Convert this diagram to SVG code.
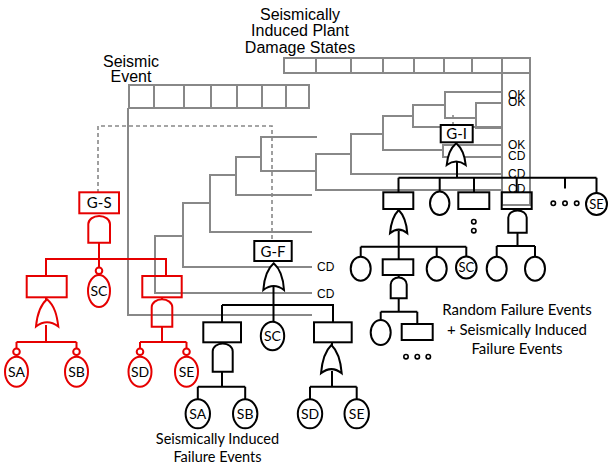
<svg xmlns="http://www.w3.org/2000/svg" width="610" height="468" viewBox="0 0 610 468">
<style>
.et{fill:none;stroke:#888;stroke-width:2}
.dash{fill:none;stroke:#888;stroke-width:1.6;stroke-dasharray:4 3}
.k{fill:none;stroke:#000;stroke-width:2}
.r{fill:none;stroke:#e60000;stroke-width:2}
.kn{fill:#fff;stroke:#000;stroke-width:2}
.ko{fill:none;stroke:#000;stroke-width:2}
.rn{fill:none;stroke:#e60000;stroke-width:2}
.gn{fill:none;stroke:#888;stroke-width:2}
.t{font-family:"Liberation Sans",Arial,sans-serif;fill:#000}
.c{font-family:Lato,"Open Sans",sans-serif;fill:#000}
.m{text-anchor:middle}
.dot{fill:#fff;stroke:#000;stroke-width:1.6}
</style>

<!-- Titles -->
<g id="title-seismic-event">
<text class="t m" x="131" y="66.5" font-size="16">Seismic</text>
<text class="t m" x="131" y="82" font-size="16">Event</text>
</g>
<g id="title-damage-states">
<text class="t m" x="300" y="20" font-size="16">Seismically</text>
<text class="t m" x="300" y="36" font-size="16">Induced Plant</text>
<text class="t m" x="300" y="52.5" font-size="16">Damage States</text>
</g>

<!-- Event tree headers -->
<g id="header-seismic">
<rect class="gn" x="129" y="85" width="180" height="23"/>
<path class="gn" d="M154,85V108M184,85V108M211,85V108M237,85V108M262,85V108M286,85V108"/>
</g>
<g id="header-damage">
<rect class="gn" x="284" y="58" width="246" height="15"/>
<path class="gn" d="M316,58V73M351,58V73M383,58V73M414,58V73M444,58V73M472,58V73M502,58V73"/>
<rect class="gn" x="502" y="73" width="28" height="132"/>
</g>

<!-- Connectors -->
<g id="connectors">
<!-- event tree -->
<path class="et" d="M128,108V315H312"/>
<path class="et" d="M183,236H155V293H312"/>
<path class="et" d="M210,203H183V267H312"/>
<path class="et" d="M236,175H210V232H312"/>
<path class="et" d="M261,157H236V195H312"/>
<path class="et" d="M317,137H261V171H317"/>
<path class="et" d="M351,154H316V190H502"/>
<path class="et" d="M383,134H351V174H502"/>
<path class="et" d="M413,116H383V150H443"/>
<path class="et" d="M445,105H413V127H502"/>
<path class="et" d="M502,92H445V118H476"/>
<path class="et" d="M502,103H476V128H502"/>
<path class="et" d="M502,145H443V157H502"/>
<!-- dashed transfer links -->
<path class="dash" d="M98,193V126H272V241"/>
<path class="dash" d="M453,115V125"/>
<!-- red G-S tree -->
<path class="r" d="M99,242V259M46,276V259H166V276M99,259V267.5"/>
<path class="r" d="M46,297V300M46,325V342M16.5,342H76.5M16.5,342V348.5M76.5,342V348.5"/>
<path class="r" d="M162,297V300M162,326V342M140,342H186.5M140,342V348.5M186.5,342V348.5"/>
<!-- black G-F tree -->
<path class="k" d="M273.5,287V322M222,305H333V322.3M222,305V322.3"/>
<path class="k" d="M222,342V344M222,371V386.7M197.8,386.7H245.2M197.8,386.7V399.3M245.2,386.7V399.3"/>
<path class="k" d="M332,342V346M332,371V386.7M310,386.7H356.7M310,386.7V399.3M356.7,386.7V399.3"/>
<!-- black G-I tree -->
<path class="k" d="M457,162V177.7M398.5,177.7H596.5M398.5,177.7V192.3M439.7,177.7V191.7M474,177.7V192.3M516.7,177.7V192.3M565,177.7V188.5M596.5,177.7V193"/>
<path class="k" d="M398.7,209V211M398.7,231V246.7M360.7,246.7H466.3M360.7,246.7V256.7M398.7,246.7V259.3M436.7,246.7V256.7M466.3,246.7V257"/>
<path class="k" d="M398.7,275V277M398.7,298V311.7M380.7,311.7H417.3M380.7,311.7V320M417.3,311.7V324"/>
<path class="k" d="M517.5,209V210M517.5,232V246M496.7,246H535M496.7,246V256.7M535,246V256.7"/>
</g>

<!-- end-state labels -->
<g id="end-states">
<text class="t" x="317" y="271" font-size="12">CD</text>
<text class="t" x="317" y="297.5" font-size="12">CD</text>
<text class="t" x="508" y="98.5" font-size="12">OK</text>
<text class="t" x="508" y="106" font-size="12">OK</text>
<text class="t" x="508" y="149.3" font-size="12">OK</text>
<text class="t" x="508" y="160.3" font-size="12">CD</text>
<text class="t" x="508" y="177.6" font-size="12">CD</text>
<text class="t" x="508" y="192.6" font-size="12">CD</text>
</g>

<!-- Red G-S fault tree -->
<g id="gs-top">
<rect class="rn" x="79.3" y="192.3" width="39.7" height="21"/>
<text class="c m" x="99.2" y="208" font-size="15">G-S</text>
</g>
<g id="gs-and"><path class="rn" d="M88.3,242.7V224A10.85,8 0 0 1 110,224V242.7Z"/></g>
<g id="gs-sc">
<circle class="rn" cx="99" cy="270.8" r="3.3"/>
<ellipse class="rn" cx="99" cy="291" rx="11" ry="16"/>
<text class="c m" x="99" y="296" font-size="14">SC</text>
</g>
<g id="gs-left">
<rect class="rn" x="26.7" y="276" width="40" height="21.3"/>
<path class="rn" d="M36,326.5C37,316 39,306 47,299.3C55,306 57,316 58.3,326.5Q47,318 36,326.5Z"/>
</g>
<g id="gs-right">
<rect class="rn" x="142.3" y="276" width="39.4" height="21.3"/>
<path class="rn" d="M151.7,326.7V307.3A10.3,8 0 0 1 172.3,307.3V326.7Z"/>
</g>
<g id="gs-sa"><circle class="rn" cx="16.5" cy="351.8" r="3.3"/><ellipse class="rn" cx="16.5" cy="371.7" rx="11.5" ry="15"/><text class="c m" x="16.5" y="376.7" font-size="14">SA</text></g>
<g id="gs-sb"><circle class="rn" cx="76.5" cy="351.8" r="3.3"/><ellipse class="rn" cx="76.5" cy="371.7" rx="11.5" ry="15"/><text class="c m" x="76.5" y="376.7" font-size="14">SB</text></g>
<g id="gs-sd"><circle class="rn" cx="140" cy="351.8" r="3.3"/><ellipse class="rn" cx="140" cy="371.7" rx="11.5" ry="15"/><text class="c m" x="140" y="376.7" font-size="14">SD</text></g>
<g id="gs-se"><circle class="rn" cx="186.5" cy="351.8" r="3.3"/><ellipse class="rn" cx="186.5" cy="371.7" rx="11.5" ry="15"/><text class="c m" x="186.5" y="376.7" font-size="14">SE</text></g>

<!-- Black G-F fault tree -->
<g id="gf-top">
<rect class="kn" x="254.3" y="241" width="37.4" height="20"/>
<text class="c m" x="273" y="256.5" font-size="15">G-F</text>
<path class="kn" d="M263.3,290C264,280 266,270 273.7,263.3C281.4,270 283.4,280 284,290Q273.7,282 263.3,290Z"/>
</g>
<g id="gf-sc"><ellipse class="kn" cx="272.5" cy="336" rx="11.7" ry="14.2"/><text class="c m" x="272.5" y="341" font-size="14">SC</text></g>
<g id="gf-left">
<rect class="kn" x="203.3" y="322.3" width="37.7" height="20"/>
<path class="kn" d="M212.7,371.7V351.5A10,8 0 0 1 232.7,351.5V371.7Z"/>
</g>
<g id="gf-right">
<rect class="kn" x="314" y="322.3" width="37.7" height="20"/>
<path class="kn" d="M321,373.3C322,362 324,352 331.4,345C338.8,352 340.8,362 341.7,373.3Q331.4,365 321,373.3Z"/>
</g>
<g id="gf-sa"><ellipse class="kn" cx="197.8" cy="413.8" rx="12.2" ry="14.5"/><text class="c m" x="197.8" y="418.8" font-size="14">SA</text></g>
<g id="gf-sb"><ellipse class="kn" cx="245.2" cy="413.8" rx="12.2" ry="14.5"/><text class="c m" x="245.2" y="418.8" font-size="14">SB</text></g>
<g id="gf-sd"><ellipse class="kn" cx="310" cy="413.8" rx="12.2" ry="14.5"/><text class="c m" x="310" y="418.8" font-size="14">SD</text></g>
<g id="gf-se"><ellipse class="kn" cx="356.7" cy="413.8" rx="12.2" ry="14.5"/><text class="c m" x="356.7" y="418.8" font-size="14">SE</text></g>
<g id="label-seismic-failures">
<text class="c m" x="217.5" y="443.5" font-size="14.5">Seismically Induced</text>
<text class="c m" x="217.5" y="462" font-size="14.5">Failure Events</text>
</g>

<!-- Black G-I fault tree -->
<g id="gi-top">
<rect class="kn" x="440.7" y="125" width="32" height="17.3"/>
<text class="c m" x="456.7" y="139" font-size="15">G-I</text>
<path class="kn" d="M446.7,165C447.5,157 449.5,149 456.2,143.3C462.9,149 464.9,157 465.7,165Q456.2,158 446.7,165Z"/>
</g>
<g id="gi-b1">
<rect class="kn" x="383.3" y="192.3" width="30" height="16.7"/>
<path class="kn" d="M390,233.3C390.8,224 392.8,216 398.7,210C404.6,216 406.6,224 407.3,233.3Q398.7,226 390,233.3Z"/>
</g>
<g id="gi-e1"><ellipse class="kn" cx="439.7" cy="203.3" rx="9.7" ry="11.7"/></g>
<g id="gi-b2">
<rect class="kn" x="458.3" y="192.3" width="31" height="16.7"/>
<circle class="dot" cx="473.8" cy="221.7" r="2.2"/><circle class="dot" cx="473.8" cy="230.7" r="2.2"/>
</g>
<g id="gi-b3">
<rect class="ko" x="501.7" y="192.3" width="30" height="16.7"/>
<path class="kn" d="M508.3,232.7V217.5A9.2,7 0 0 1 526.7,217.5V232.7Z"/>
</g>
<g id="gi-more"><circle class="dot" cx="553.3" cy="203.3" r="2.2"/><circle class="dot" cx="565" cy="203.3" r="2.2"/><circle class="dot" cx="576.7" cy="203.3" r="2.2"/></g>
<g id="gi-se"><ellipse class="kn" cx="596.5" cy="204" rx="10.5" ry="11"/><text class="c m" x="596.5" y="208.5" font-size="13">SE</text></g>
<g id="gi-e2"><ellipse class="kn" cx="360.7" cy="268.7" rx="10" ry="12"/></g>
<g id="gi-b4">
<rect class="kn" x="382.7" y="259.3" width="30.6" height="15.7"/>
<path class="kn" d="M390.7,298.3V284.5A8,7 0 0 1 406.7,284.5V298.3Z"/>
</g>
<g id="gi-e3"><ellipse class="kn" cx="436.7" cy="268.7" rx="10" ry="12"/></g>
<g id="gi-sc"><ellipse class="kn" cx="466.3" cy="267.5" rx="10.3" ry="11"/><text class="c m" x="466.3" y="272" font-size="13">SC</text></g>
<g id="gi-e4"><ellipse class="kn" cx="380.7" cy="332.5" rx="10" ry="12.5"/></g>
<g id="gi-b5">
<rect class="kn" x="401.7" y="324" width="31" height="16"/>
<circle class="dot" cx="406" cy="356.7" r="2.2"/><circle class="dot" cx="417.3" cy="356.7" r="2.2"/><circle class="dot" cx="428.3" cy="356.7" r="2.2"/>
</g>
<g id="gi-e5"><ellipse class="kn" cx="496.7" cy="268.7" rx="10" ry="12"/></g>
<g id="gi-e6"><ellipse class="kn" cx="535" cy="268.7" rx="10" ry="12"/></g>
<g id="label-random-failures">
<text class="c m" x="517" y="315" font-size="15">Random Failure Events</text>
<text class="c m" x="517" y="334.5" font-size="15">+ Seismically Induced</text>
<text class="c m" x="517" y="354" font-size="15">Failure Events</text>
</g>
</svg>
